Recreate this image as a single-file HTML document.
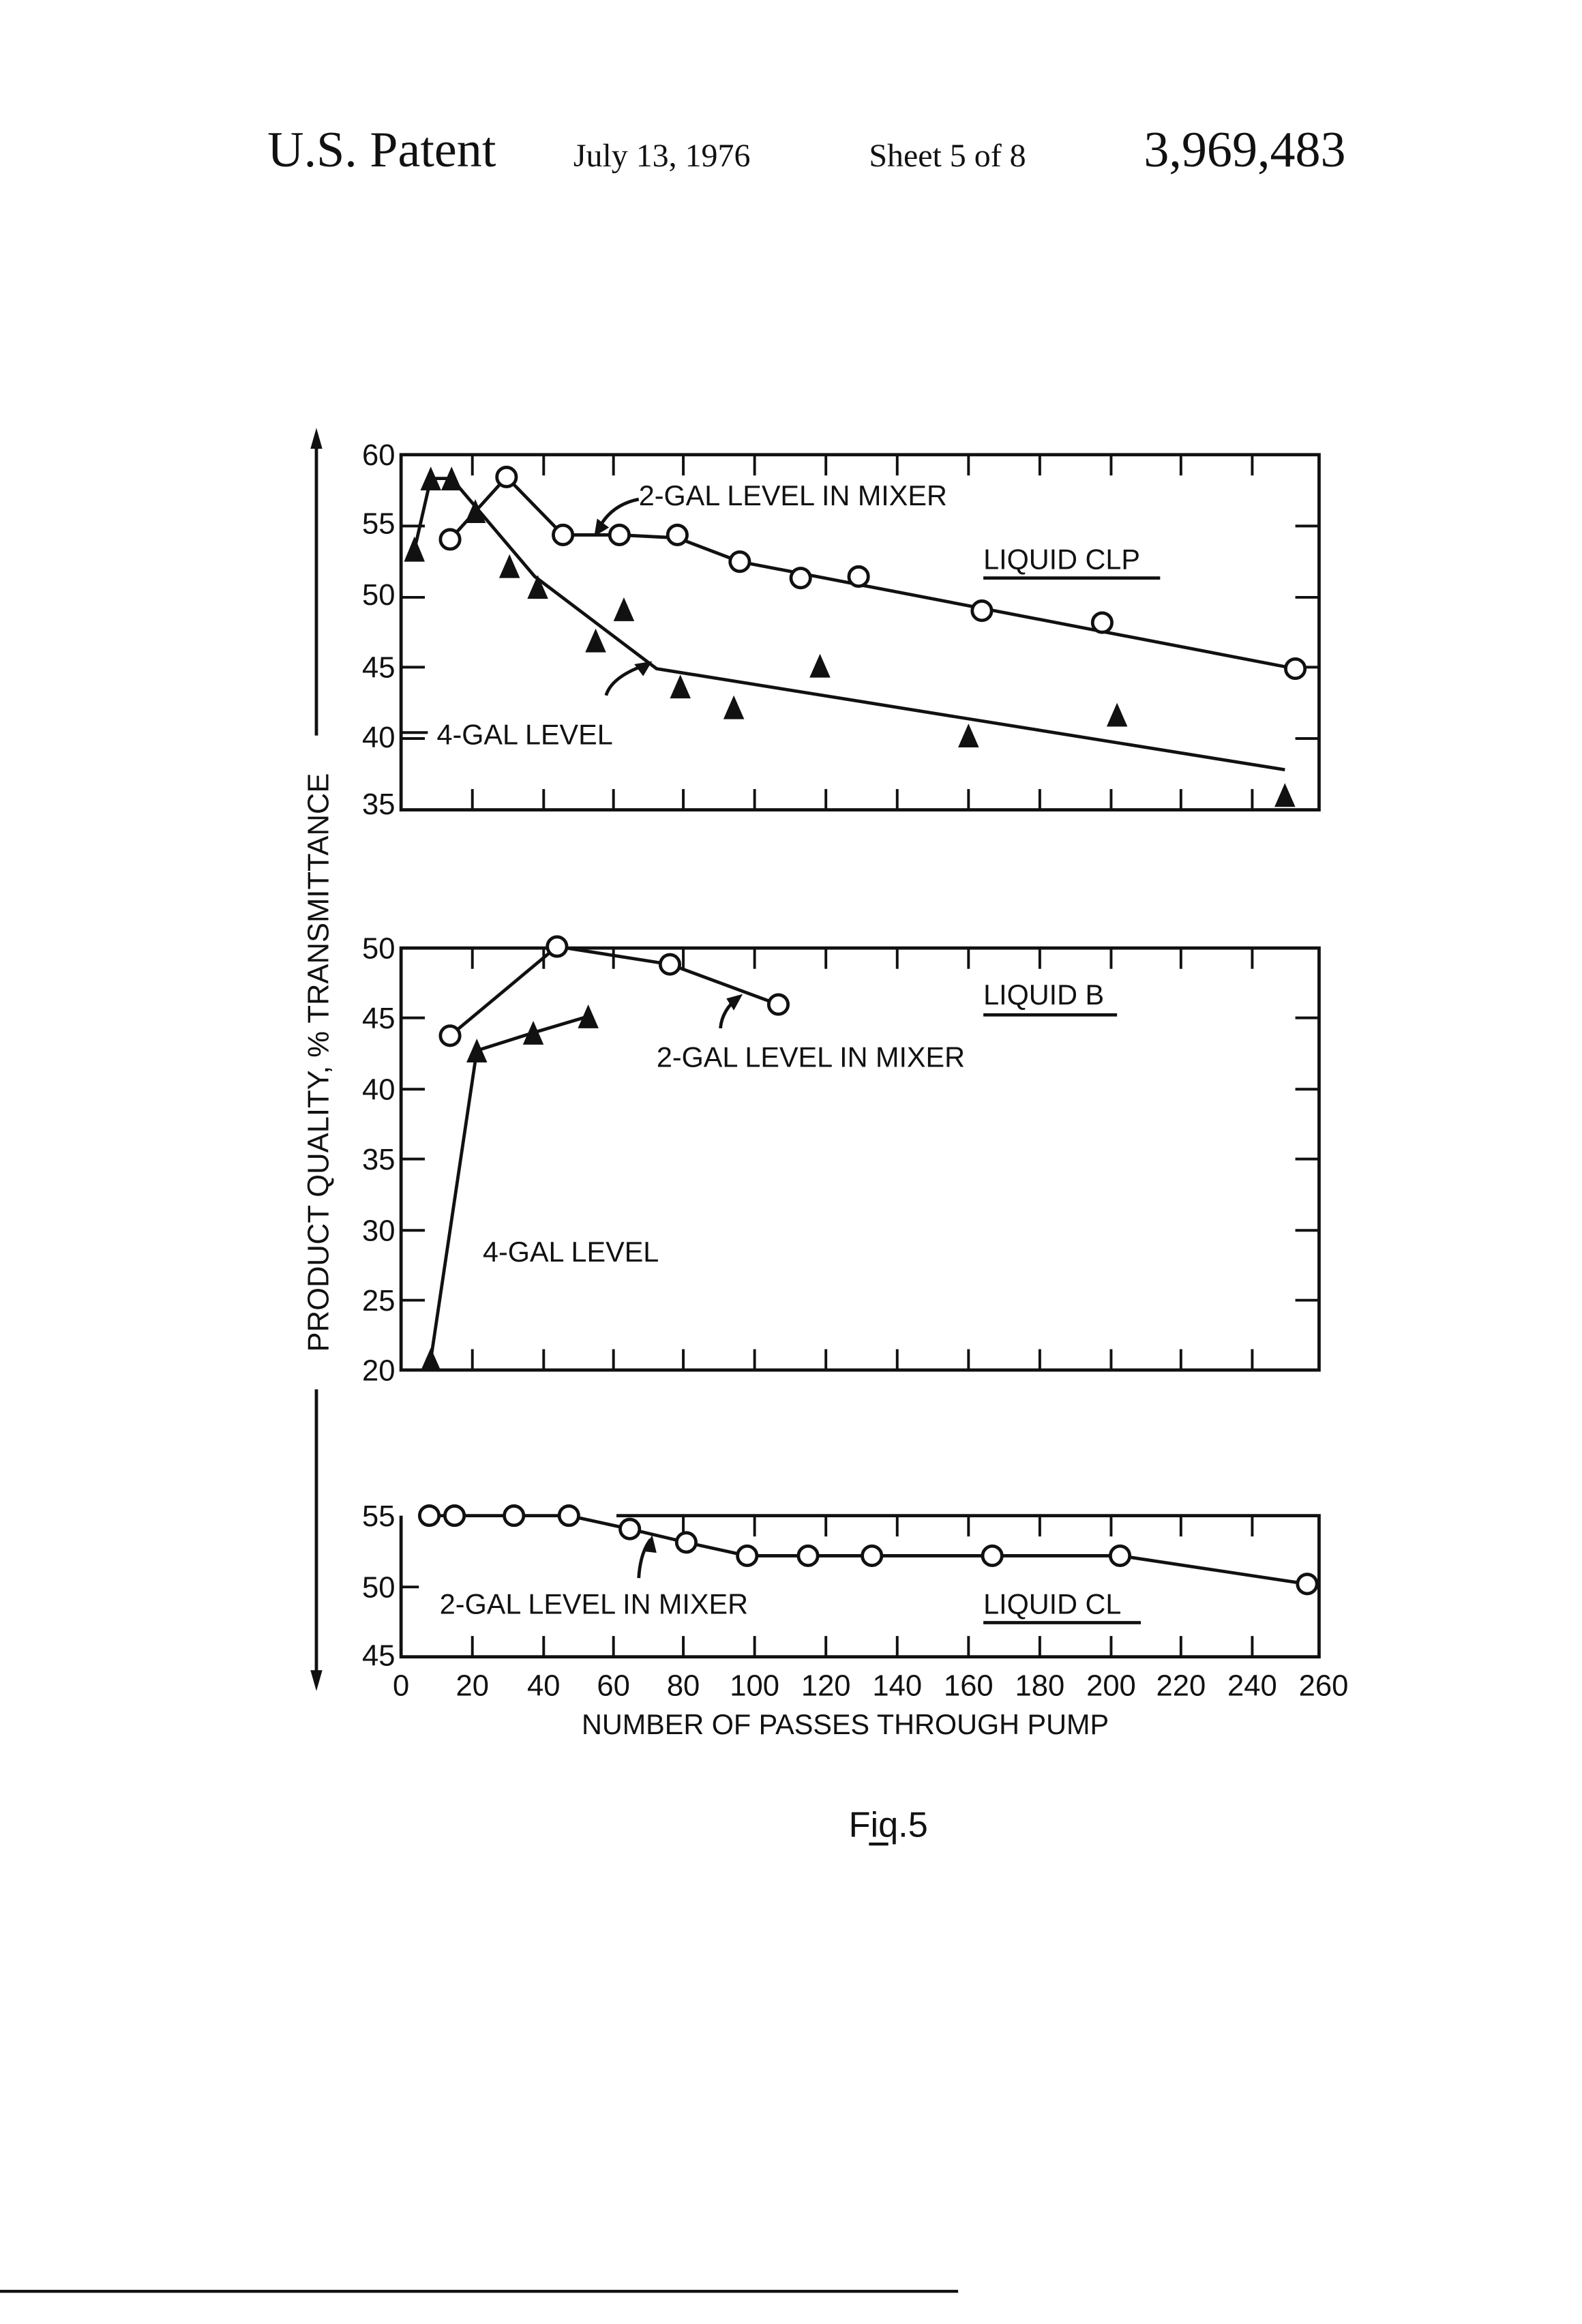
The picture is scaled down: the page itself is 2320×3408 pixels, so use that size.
<!DOCTYPE html>
<html><head><meta charset="utf-8"><style>html,body{margin:0;padding:0;background:#fff}svg{display:block}</style></head><body>
<svg width="2320" height="3408" viewBox="0 0 1065 1564" preserveAspectRatio="none" xmlns="http://www.w3.org/2000/svg" font-family="Liberation Sans, sans-serif">
<rect width="1065" height="1564" fill="#fff"/>
<g font-family="Liberation Serif, serif" fill="#111">
<text x="180" y="112" font-size="34">U.S. Patent</text>
<text x="386" y="112" font-size="22">July 13, 1976</text>
<text x="585" y="112" font-size="22">Sheet 5 of 8</text>
<text x="770" y="112" font-size="34">3,969,483</text>
</g>
<line x1="0" y1="1542" x2="645" y2="1542" stroke="#111" stroke-width="2"/>
<g stroke="#111" fill="none" stroke-width="2.2">
<line x1="213" y1="296" x2="213" y2="495"/><line x1="213" y1="935" x2="213" y2="1130"/>
</g>
<polygon points="213,288 209,302 217,302" fill="#111"/>
<polygon points="213,1138 209,1124 217,1124" fill="#111"/>
<text transform="translate(221,715) rotate(-90)" text-anchor="middle" font-size="20" fill="#111">PRODUCT QUALITY, % TRANSMITTANCE</text>

<g stroke="#111" fill="none" stroke-width="2.2">
<rect x="270" y="306" width="618" height="239"/>
<rect x="270" y="638" width="618" height="284"/>
<path d="M415,1020 H888 V1115 H270 V1020"/>
</g>
<g stroke="#111" stroke-width="1.8">
<path d="M318,306v14M366,306v14M413,306v14M460,306v14M508,306v14M556,306v14M604,306v14M652,306v14M700,306v14M748,306v14M795,306v14M843,306v14
M318,545v-14M366,545v-14M413,545v-14M460,545v-14M508,545v-14M556,545v-14M604,545v-14M652,545v-14M700,545v-14M748,545v-14M795,545v-14M843,545v-14
M270,354h16M270,402h16M270,449h16M270,497h16M888,354h-16M888,402h-16M888,449h-16M888,497h-16
M318,638v14M366,638v14M413,638v14M460,638v14M508,638v14M556,638v14M604,638v14M652,638v14M700,638v14M748,638v14M795,638v14M843,638v14
M318,922v-14M366,922v-14M413,922v-14M460,922v-14M508,922v-14M556,922v-14M604,922v-14M652,922v-14M700,922v-14M748,922v-14M795,922v-14M843,922v-14
M270,685h16M270,733h16M270,780h16M270,828h16M270,875h16M888,685h-16M888,733h-16M888,780h-16M888,828h-16M888,875h-16
M460,1020v14M508,1020v14M556,1020v14M604,1020v14M652,1020v14M700,1020v14M748,1020v14M795,1020v14M843,1020v14
M318,1115v-14M366,1115v-14M413,1115v-14M460,1115v-14M508,1115v-14M556,1115v-14M604,1115v-14M652,1115v-14M700,1115v-14M748,1115v-14M795,1115v-14M843,1115v-14
M270,1068h12"/>
</g>
<g font-size="20" fill="#111" text-anchor="end">
<text x="266" y="313">60</text><text x="266" y="359">55</text><text x="266" y="407">50</text><text x="266" y="456">45</text><text x="266" y="503">40</text><text x="266" y="548">35</text>
<text x="266" y="645">50</text><text x="266" y="692">45</text><text x="266" y="740">40</text><text x="266" y="787">35</text><text x="266" y="835">30</text><text x="266" y="882">25</text><text x="266" y="929">20</text>
<text x="266" y="1027">55</text><text x="266" y="1075">50</text><text x="266" y="1121">45</text>
</g>
<g font-size="20" fill="#111" text-anchor="middle">
<text x="270" y="1141">0</text><text x="318" y="1141">20</text><text x="366" y="1141">40</text><text x="413" y="1141">60</text><text x="460" y="1141">80</text><text x="508" y="1141">100</text><text x="556" y="1141">120</text><text x="604" y="1141">140</text><text x="652" y="1141">160</text><text x="700" y="1141">180</text><text x="748" y="1141">200</text><text x="795" y="1141">220</text><text x="843" y="1141">240</text><text x="891" y="1141">260</text>
<text x="569" y="1167" font-size="19">NUMBER OF PASSES THROUGH PUMP</text>
<text x="598" y="1236" font-size="24">Fiq.5</text>
</g>
<line x1="585" y1="1241" x2="598" y2="1241" stroke="#111" stroke-width="2"/>

<g stroke="#111" fill="none" stroke-width="2.2">
<polyline points="303,363 341,321 379,360 417,360 456,362 498,378 872,450"/>
<polyline points="279,370 290,322 304,322 360,388 442,450 865,518"/>
<path d="M430,336 Q410,340 402,358"/>
<path d="M408,468 Q412,455 436,447"/>
</g>
<g fill="#fff" stroke="#111" stroke-width="2.2">
<circle cx="303" cy="363" r="6.5"/><circle cx="341" cy="321" r="6.5"/><circle cx="379" cy="360" r="6.5"/><circle cx="417" cy="360" r="6.5"/><circle cx="456" cy="360" r="6.5"/><circle cx="498" cy="378" r="6.5"/><circle cx="539" cy="389" r="6.5"/><circle cx="578" cy="388" r="6.5"/><circle cx="661" cy="411" r="6.5"/><circle cx="742" cy="419" r="6.5"/><circle cx="872" cy="450" r="6.5"/>
</g>
<g fill="#111">
<polygon points="279,361 272,378 286,378"/><polygon points="290,314 283,330 297,330"/><polygon points="304,314 297,330 311,330"/><polygon points="320,336 313,352 327,352"/><polygon points="343,373 336,389 350,389"/><polygon points="362,387 355,403 369,403"/><polygon points="401,423 394,439 408,439"/><polygon points="420,402 413,418 427,418"/><polygon points="458,454 451,470 465,470"/><polygon points="494,468 487,484 501,484"/><polygon points="552,440 545,456 559,456"/><polygon points="652,487 645,503 659,503"/><polygon points="752,473 745,489 759,489"/><polygon points="865,527 858,543 872,543"/>
<polygon points="400,361 402,349 410,355"/><polygon points="439,445 427,447 433,455"/>
</g>
<g font-size="19" fill="#111">
<text x="430" y="340">2-GAL LEVEL IN MIXER</text>
<text x="662" y="383">LIQUID CLP</text>
<text x="294" y="501">4-GAL LEVEL</text>
</g>
<line x1="662" y1="389" x2="781" y2="389" stroke="#111" stroke-width="2.2"/>
<line x1="270" y1="493" x2="288" y2="493" stroke="#111" stroke-width="1.8"/>

<g stroke="#111" fill="none" stroke-width="2.2">
<polyline points="303,697 375,637 451,649 524,676"/>
<polyline points="290,915 321,707 359,695 396,684"/>
<path d="M485,692 Q486,680 497,671"/>
</g>
<g fill="#fff" stroke="#111" stroke-width="2.2">
<circle cx="303" cy="697" r="6.5"/><circle cx="375" cy="637" r="6.5"/><circle cx="451" cy="649" r="6.5"/><circle cx="524" cy="676" r="6.5"/>
</g>
<g fill="#111">
<polygon points="290,907 283,923 297,923"/><polygon points="321,699 314,715 328,715"/><polygon points="359,687 352,703 366,703"/><polygon points="396,676 389,692 403,692"/>
<polygon points="500,669 489,672 494,680"/>
</g>
<g font-size="19" fill="#111">
<text x="662" y="676">LIQUID B</text>
<text x="442" y="718">2-GAL LEVEL IN MIXER</text>
<text x="325" y="849">4-GAL LEVEL</text>
</g>
<line x1="662" y1="683" x2="752" y2="683" stroke="#111" stroke-width="2.2"/>

<g stroke="#111" fill="none" stroke-width="2.2">
<polyline points="289,1020 383,1020 424,1029 462,1038 503,1047 754,1047 880,1066"/>
<path d="M430,1062 Q431,1045 438,1036"/>
</g>
<g fill="#fff" stroke="#111" stroke-width="2.2">
<circle cx="289" cy="1020" r="6.5"/><circle cx="306" cy="1020" r="6.5"/><circle cx="346" cy="1020" r="6.5"/><circle cx="383" cy="1020" r="6.5"/><circle cx="424" cy="1029" r="6.5"/><circle cx="462" cy="1038" r="6.5"/><circle cx="503" cy="1047" r="6.5"/><circle cx="544" cy="1047" r="6.5"/><circle cx="587" cy="1047" r="6.5"/><circle cx="668" cy="1047" r="6.5"/><circle cx="754" cy="1047" r="6.5"/><circle cx="880" cy="1066" r="6.5"/>
</g>
<polygon points="439,1033 433,1044 442,1045" fill="#111"/>
<g font-size="19" fill="#111">
<text x="296" y="1086">2-GAL LEVEL IN MIXER</text>
<text x="662" y="1086">LIQUID CL</text>
</g>
<line x1="662" y1="1092" x2="768" y2="1092" stroke="#111" stroke-width="2.2"/>
</svg>
</body></html>
